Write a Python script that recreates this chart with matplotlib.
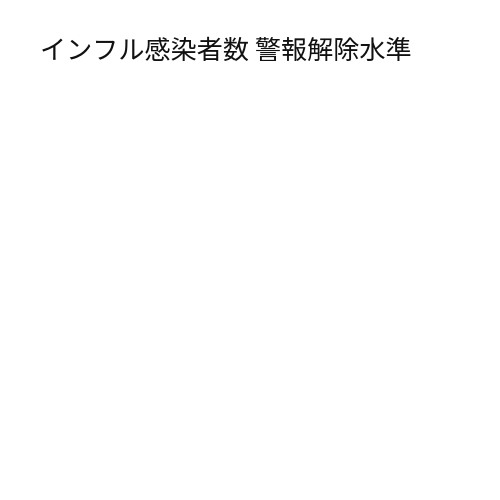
import matplotlib
matplotlib.use("Agg")
import matplotlib.pyplot as plt

plt.rcParams['font.family'] = ['Noto Sans CJK JP', 'DejaVu Sans']

# the chart has a title only; no series are drawn
title = "インフル感染者数 警報解除水準"
weeks = []
cases = []

fig = plt.figure(figsize=(5, 5), dpi=100)
fig.patch.set_facecolor("white")

ax = fig.add_axes([0.08, 0.1, 0.84, 0.72])
ax.plot(weeks, cases)
ax.axis("off")

fig.text(0.079, 1 - 38 / 500, title, fontsize=18.8, ha="left", va="top",
         color="#111111")

fig.savefig("out.png", dpi=100, facecolor="white")
